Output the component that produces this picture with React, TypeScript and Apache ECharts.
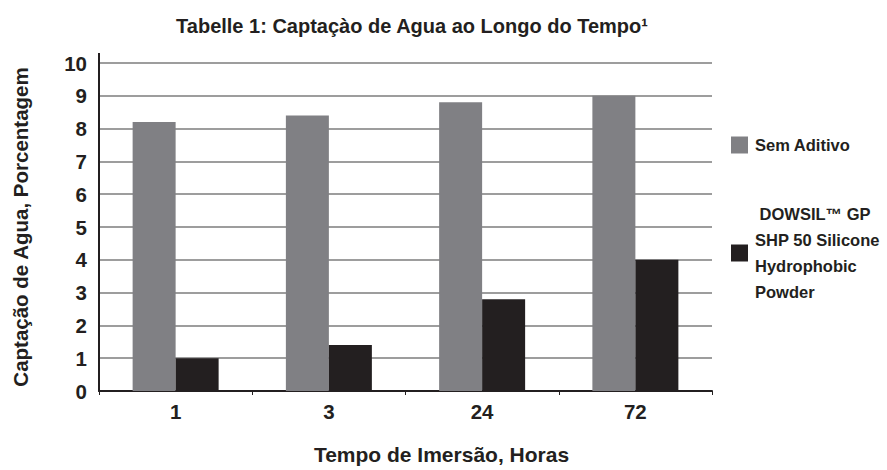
import React, { useEffect, useRef } from "react";
import * as echarts from "echarts";

const categories = ["1", "3", "24", "72"];
const semAditivo = [8.2, 8.4, 8.8, 9.0];
const dowsil = [1.0, 1.4, 2.8, 4.0];
const seriesNames = ["Sem Aditivo", " DOWSIL™ GP\nSHP 50 Silicone\nHydrophobic\nPowder"];
const yMin = 0;
const yMax = 10;
const yInterval = 1;

const FONT = "'Liberation Sans', Arial, sans-serif";
const INK = "#231f20";

export default function App() {
  const ref = useRef<HTMLDivElement>(null);
  useEffect(() => {
    if (!ref.current) return;
    const chart = echarts.init(ref.current, undefined, { renderer: "svg" });
    const legendText = {
      fontFamily: FONT,
      fontWeight: "bold",
      fontSize: 16.5,
      color: INK,
      lineHeight: 26,
      padding: [0, 0, 0, 2],
    };
    chart.setOption({
      animation: false,
      backgroundColor: "#ffffff",
      textStyle: { fontFamily: FONT },
      title: {
        text: "Tabelle 1: Captaçào de Agua ao Longo do Tempo¹",
        left: 407,
        textAlign: "center",
        top: 11,
        textStyle: { fontFamily: FONT, fontWeight: "bold", fontSize: 20, color: INK },
      },
      grid: { left: 99, right: 175, top: 63, bottom: 78, containLabel: false },
      legend: [
        {
          data: [seriesNames[0]],
          left: 726,
          top: 127,
          orient: "vertical",
          itemWidth: 17,
          itemHeight: 17,
          icon: "rect",
          textStyle: legendText,
          selectedMode: false,
        },
        {
          data: [seriesNames[1]],
          left: 726,
          top: 196,
          orient: "vertical",
          itemWidth: 17,
          itemHeight: 17,
          icon: "rect",
          textStyle: legendText,
          selectedMode: false,
        },
      ],
      xAxis: {
        type: "category",
        data: categories,
        name: "Tempo de Imersão, Horas",
        nameLocation: "middle",
        nameGap: 53,
        nameTextStyle: {
          fontFamily: FONT,
          fontWeight: "bold",
          fontSize: 21,
          color: INK,
          padding: [0, 0, 0, 72],
        },
        axisLine: { lineStyle: { color: INK, width: 2 } },
        axisTick: { show: true, length: 4, lineStyle: { color: INK, width: 1 } },
        axisLabel: { fontFamily: FONT, fontWeight: "bold", fontSize: 20.5, color: INK, margin: 10 },
      },
      yAxis: {
        type: "value",
        min: yMin,
        max: yMax,
        interval: yInterval,
        name: "Captação de Agua, Porcentagem",
        nameLocation: "middle",
        nameGap: 68,
        nameRotate: 90,
        nameTextStyle: { fontFamily: FONT, fontWeight: "bold", fontSize: 20.5, color: INK },
        axisLine: { show: true, lineStyle: { color: INK, width: 2 } },
        axisTick: { show: false },
        axisLabel: { fontFamily: FONT, fontWeight: "bold", fontSize: 20.5, color: INK, margin: 12 },
        splitLine: { show: true, lineStyle: { color: "#7d7d7d", width: 1.5 } },
      },
      series: [
        {
          name: seriesNames[0],
          type: "bar",
          data: semAditivo,
          barWidth: 43,
          barGap: "0%",
          itemStyle: { color: "#808084" },
        },
        {
          name: seriesNames[1],
          type: "bar",
          data: dowsil,
          barWidth: 43,
          itemStyle: { color: INK },
        },
      ],
    });
    // extend the y-axis line slightly above the top gridline, as in the reference
    const top = chart.convertToPixel({ gridIndex: 0 }, [0, yMax]) as number[];
    const x0 = chart.convertToPixel({ xAxisIndex: 0 }, categories[0]) as number;
    if (top && Array.isArray(top)) {
      const bandHalf = (chart.convertToPixel({ xAxisIndex: 0 }, categories[1]) as number) - x0;
      const axisX = x0 - bandHalf / 2;
      chart.setOption({
        graphic: [
          {
            type: "line",
            shape: { x1: axisX, y1: top[1] - 10, x2: axisX, y2: top[1] },
            style: { stroke: INK, lineWidth: 2 },
            silent: true,
          },
        ],
      });
    }
    return () => chart.dispose();
  }, []);
  return <div ref={ref} style={{ width: 887, height: 470, position: "absolute", left: 0, top: 0 }} />;
}
